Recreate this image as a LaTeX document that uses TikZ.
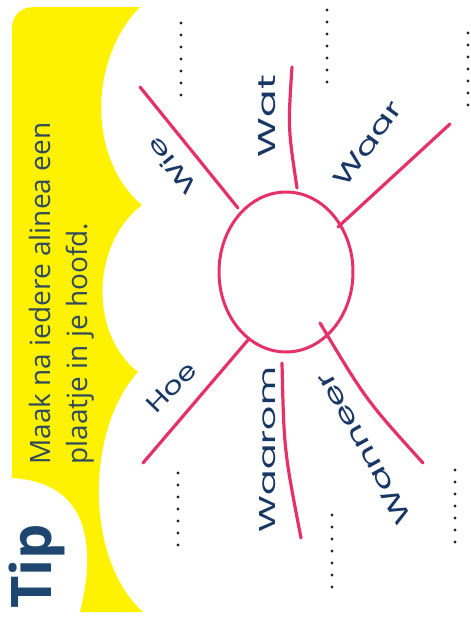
\documentclass[tikz,border=0pt]{standalone}
\usepackage{fontspec}
\setmainfont{Open Sans}
\newfontfamily\handfont{Poppins}
\usetikzlibrary{shapes.geometric}
\definecolor{tipyellow}{RGB}{255,242,0}
\definecolor{raypink}{RGB}{228,50,105}
\definecolor{handblue}{RGB}{25,55,100}
\definecolor{tiptext}{RGB}{50,75,90}
\definecolor{tipnavy}{RGB}{30,70,110}
\tikzset{
  ray/.style={draw=raypink, line width=3.2pt, line cap=round},
  hand/.style={text=handblue, inner sep=0pt},
  dotline/.style={fill=black!85},
  tipline/.style={text=tiptext, inner sep=0pt, rotate=90, anchor=base west, font=\fontsize{28}{34}\selectfont}
}
\begin{document}
\begin{tikzpicture}[x=1pt,y=-1pt]
\useasboundingbox (0,0) rectangle (471,621);
% yellow tip panel with cloud edge
\fill[tipyellow] (12,30) .. controls (12,15) and (20,7) .. (35,7) -- (140,7)
  .. controls (88,60) and (88,160) .. (142,205)
  .. controls (90,245) and (90,335) .. (138,372)
  .. controls (85,430) and (85,560) .. (143,612)
  -- (80,612)
  .. controls (98,540) and (85,482) .. (12,478) -- cycle;
% texts
\node[tipline] (line1) at (50,465) {Maak na iedere alinea een};
\node[tipline] (line2) at (87,465) {plaatje in je hoofd.};
\node[text=tipnavy, inner sep=0pt, rotate=90, anchor=base west, font=\fontsize{56}{60}\selectfont\bfseries] (tip) at (51,609) {Tip};
% sun
\node[draw=raypink, line width=3pt, ellipse, minimum width=134pt, minimum height=160pt, inner sep=0pt] (sun) at (286,272) {};
% ray end points
\coordinate (wieA) at (238,208); \coordinate (wieB) at (140,87);
\coordinate (watA) at (297,188); \coordinate (watC) at (288,128); \coordinate (watB) at (292,67);
\coordinate (waarA) at (338,227); \coordinate (waarB) at (450,124);
\coordinate (hoeA) at (248,340); \coordinate (hoeB) at (143,463);
\coordinate (waaromA) at (282,363); \coordinate (waaromC) at (284,450); \coordinate (waaromB) at (301,538);
\coordinate (wanneerA) at (320,323); \coordinate (wanneerC) at (366,400); \coordinate (wanneerB) at (423,463);
\draw[ray] (wieA) -- (wieB);
\draw[ray] (watA) .. controls (watC) .. (watB);
\draw[ray] (waarA) -- (waarB);
\draw[ray] (hoeA) -- (hoeB);
\draw[ray] (waaromA) .. controls (waaromC) .. (waaromB);
\draw[ray] (wanneerA) .. controls (wanneerC) .. (wanneerB);
% handwritten labels
\node[hand, rotate=129] (lwie) at (171.5,166.5) {\resizebox{66pt}{17pt}{\handfont Wie}};
\node[hand, rotate=90] (lwat) at (267,116) {\resizebox{82pt}{17pt}{\handfont Wat}};
\node[hand, rotate=54] (lwaar) at (367.5,144) {\resizebox{99pt}{17pt}{\handfont Waar}};
\node[hand, rotate=46] (lhoe) at (171.5,387.5) {\resizebox{60pt}{17pt}{\handfont Hoe}};
\node[hand, rotate=90] (lwaarom) at (267.5,449.5) {\resizebox{165pt}{16pt}{\handfont Waarom}};
\node[hand, rotate=119] (lwanneer) at (363.5,448.5) {\resizebox{170pt}{17pt}{\handfont Wanneer}};
% dotted answer lines
\foreach \px/\py in {181/23, 327/10, 468/33, 178/473, 332/515, 455/470}{
  \foreach \i in {0,...,6}{
    \fill[dotline] (\px,{\py+12*\i}) circle (1.7pt);
  }
}
\end{tikzpicture}
\end{document}
